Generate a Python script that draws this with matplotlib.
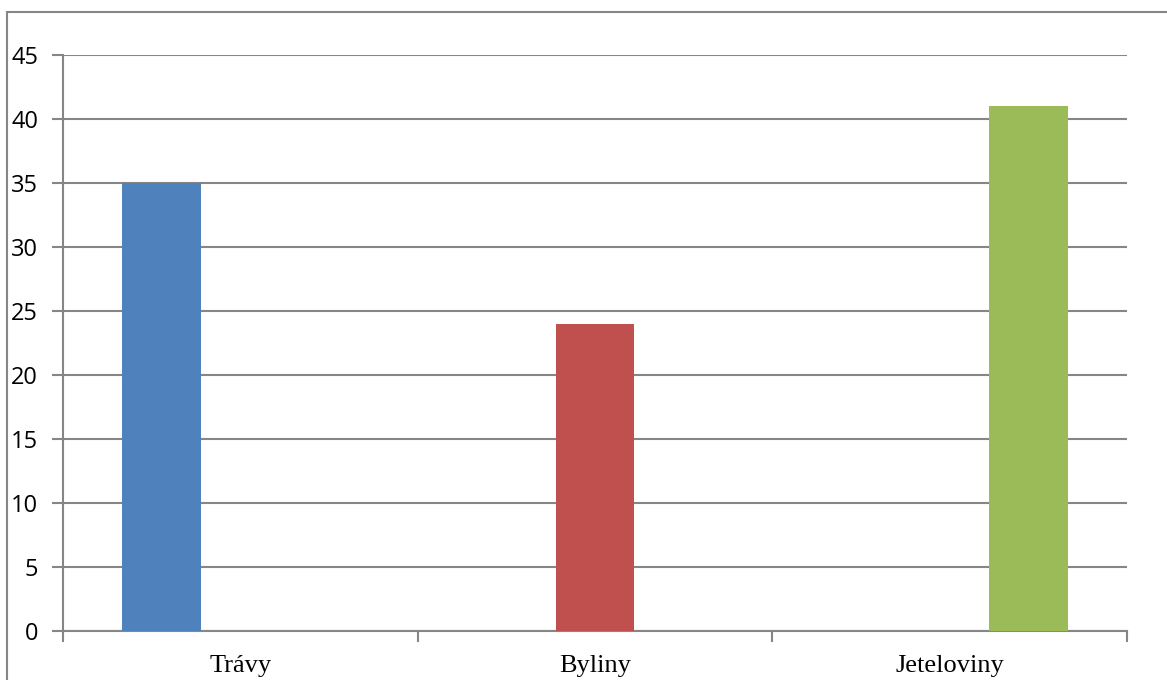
import numpy as np
import matplotlib.pyplot as plt
from matplotlib.patches import Rectangle

categories = ['Trávy', 'Byliny', 'Jeteloviny']
values = [35, 24, 41]
colors = ['#4F81BD', '#C0504D', '#9BBB59']
yticks = [0, 5, 10, 15, 20, 25, 30, 35, 40, 45]

fig = plt.figure(figsize=(11.67, 6.8), dpi=100)
W, H = 1167, 680
ax = fig.add_axes([63 / W, (H - 631) / H, (1127 - 63) / W, (631 - 55) / H])

# Excel-style clustered bars: 3 series, each with one value
n = len(categories)
w = 1 / (n + 1.5)
x = np.arange(n)
for j in range(n):
    ax.bar(x[j] + (j - 1) * w, values[j], width=w, color=colors[j], zorder=3)

grid_c = '#868686'
ax.set_xlim(-0.5, n - 0.5)
ax.set_ylim(0, 45)
ax.set_yticks(yticks)
ax.set_yticklabels([str(v) for v in yticks], fontsize=17, family='Open Sans')
ax.yaxis.grid(True, color=grid_c, linewidth=1.5, zorder=0)
ax.set_axisbelow(True)

ax.set_xticks(np.arange(-0.5, n, 1.0))
ax.set_xticklabels([])
ax.set_xticks(x, minor=True)
ax.set_xticklabels(categories, minor=True, fontsize=19, family='Liberation Serif')
ax.tick_params(axis='x', which='minor', length=0, pad=17)
ax.tick_params(axis='x', which='major', length=8, width=1.5, color=grid_c)
ax.tick_params(axis='y', length=8, width=1.5, color=grid_c, pad=10)

for s in ['top', 'right']:
    ax.spines[s].set_visible(False)
for s in ['left', 'bottom']:
    ax.spines[s].set_color(grid_c)
    ax.spines[s].set_linewidth(1.5)

# outer chart border (cropped at right and bottom)
fig.patches.append(Rectangle((7 / W, -0.1), 1.2, (H - 12) / H + 0.1,
                             transform=fig.transFigure, fill=False,
                             edgecolor=grid_c, linewidth=1.5))

fig.savefig('out.png', dpi=100)
